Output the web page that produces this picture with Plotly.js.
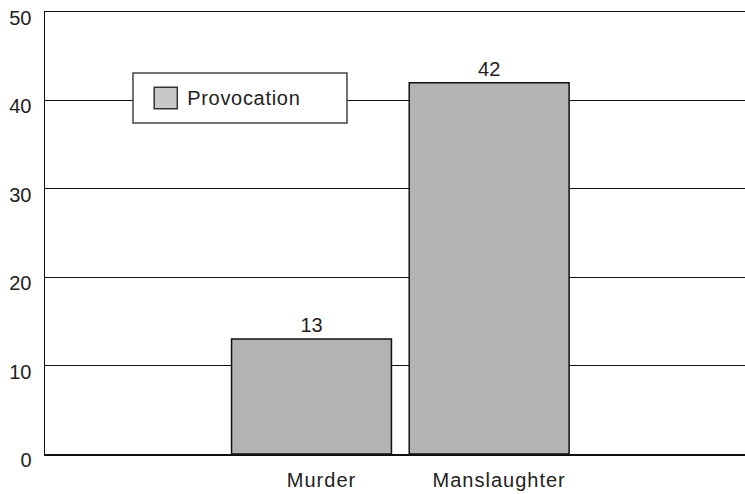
<!DOCTYPE html>
<html>
<head>
<meta charset="utf-8">
<script src="https://cdn.plot.ly/plotly-3.0.1.min.js"></script>
<style>
  html, body { margin: 0; padding: 0; background: #fff; }
  #chart { width: 745px; height: 494px; }
  .xtick text { letter-spacing: 1px; }
  .annotation-text.legend-label { letter-spacing: 0.7px; }
</style>
</head>
<body>
<div id="chart"></div>
<script>
// Offence categories and counts for the provocation series
const categories = ['Murder', 'Manslaughter'];
const provocation = [13, 42];
const seriesName = 'Provocation';
const yTicks = [0, 10, 20, 30, 40, 50];

const FONT = '"Liberation Sans", Arial, Helvetica, sans-serif';
const INK = '#222222';

const trace = {
  type: 'bar',
  name: seriesName,
  x: categories,
  y: provocation,
  text: provocation.map(String),
  textposition: 'outside',
  cliponaxis: false,
  textfont: { family: FONT, size: 20, color: INK },
  marker: { color: '#b3b3b3', line: { color: '#111111', width: 1.5 } },
  hoverinfo: 'x+y',
  showlegend: false
};

// Boxed key in the upper-left of the plot area
const key = { x0: 0.1257, x1: 0.4314, y0: 0.749, y1: 0.862 };
const swatch = { x0: 0.156, x1: 0.189, y0: 0.781, y1: 0.830 };

const layout = {
  width: 745,
  height: 494,
  margin: { l: 45, r: 0, t: 12, b: 40, pad: 0 },
  paper_bgcolor: '#ffffff',
  plot_bgcolor: '#ffffff',
  font: { family: FONT, size: 20, color: INK },
  bargap: 0.1,
  showlegend: false,
  xaxis: {
    type: 'category',
    range: [-1.5, 2.44],
    showgrid: false,
    zeroline: false,
    showline: true,
    mirror: true,
    linecolor: '#111111',
    linewidth: 1.5,
    ticks: '',
    ticklabelstandoff: 7,
    ticklabelshift: 10,
    tickfont: { family: FONT, size: 20, color: INK },
    automargin: false,
    fixedrange: true
  },
  yaxis: {
    range: [0, 50.0001],
    tickvals: yTicks,
    ticktext: yTicks.map(String),
    showgrid: true,
    gridcolor: '#111111',
    gridwidth: 1.3,
    zeroline: false,
    showline: true,
    linecolor: '#111111',
    linewidth: 1.5,
    ticks: '',
    ticklabelstandoff: 8,
    ticklabelshift: 6,
    tickfont: { family: FONT, size: 20, color: INK },
    automargin: false,
    fixedrange: true
  },
  shapes: [
    {
      type: 'rect', xref: 'paper', yref: 'paper', layer: 'above',
      x0: key.x0, x1: key.x1, y0: key.y0, y1: key.y1,
      fillcolor: '#ffffff', line: { color: '#444444', width: 1.5 }
    },
    {
      type: 'rect', xref: 'paper', yref: 'paper', layer: 'above',
      x0: swatch.x0, x1: swatch.x1, y0: swatch.y0, y1: swatch.y1,
      fillcolor: '#c8c8c8', line: { color: '#333333', width: 1.5 }
    }
  ],
  annotations: [
    {
      xref: 'paper', yref: 'paper',
      x: 0.2057, y: (swatch.y0 + swatch.y1) / 2,
      xanchor: 'left', yanchor: 'middle',
      text: seriesName,
      showarrow: false,
      font: { family: FONT, size: 20, color: INK }
    }
  ]
};

Plotly.newPlot('chart', [trace], layout, { displayModeBar: false, staticPlot: true })
  .then(function () {
    document.querySelectorAll('.annotation-text').forEach(function (t) {
      t.classList.add('legend-label');
    });
  });
</script>
</body>
</html>
